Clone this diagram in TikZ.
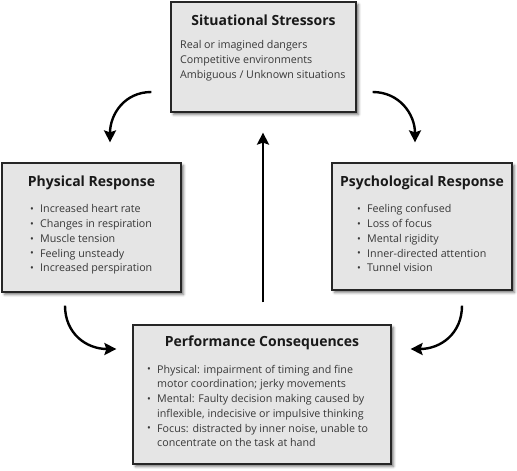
\documentclass[tikz,border=0pt]{standalone}
\usepackage{fontspec}
\setmainfont{Open Sans}
\usetikzlibrary{arrows.meta,shadows.blur}
\newcommand{\itm}{\makebox[10pt][l]{\raisebox{0.3pt}{\fontsize{10}{10}\selectfont\textbullet}}}
\newcommand{\lead}{\rule{0pt}{9pt}}
\begin{document}
\begin{tikzpicture}[x=1pt,y=-1pt,
  box/.style={draw=black!85,line width=1.2pt,fill=black!10,inner sep=0pt,
    blur shadow={shadow xshift=2.5pt,shadow yshift=-2.5pt,shadow blur radius=2.5pt,shadow opacity=55}},
  head/.style={anchor=base,inner sep=0pt,font=\fontsize{14}{16}\selectfont\bfseries,text=black!90},
  list/.style={anchor=north west,inner sep=0pt,align=left,font=\fontsize{10.7}{14.75}\selectfont,text=black!78},
  flow/.style={line width=2.4pt,-{Stealth[length=12pt,width=12pt,inset=2pt]}}]
  \useasboundingbox (0,0) rectangle (517,471);
  \node[box,minimum width=185pt,minimum height=110pt] (S) at (263.5,57) {};
  \node[box,minimum width=179pt,minimum height=129pt] (P) at (91.5,227.5) {};
  \node[box,minimum width=180pt,minimum height=127pt] (R) at (422,226.5) {};
  \node[box,minimum width=258pt,minimum height=139pt] (C) at (262,394.5) {};
  \node[head] (ST) at (263.5,25) {Situational Stressors};
  \node[head] (PT) at (91.5,186) {Physical Response};
  \node[head] (RT) at (422,186) {Psychological Response};
  \node[head] (CT) at (262,346) {Performance Consequences};
  \node[list] (SL) at (180,39.5) {\lead Real or imagined dangers\\
    Competitive environments\\
    Ambiguous / Unknown situations};
  \node[list] (PL) at (30,203.7) {\lead\itm Increased heart rate\\
    \itm Changes in respiration\\
    \itm Muscle tension\\
    \itm Feeling unsteady\\
    \itm Increased perspiration};
  \node[list] (RL) at (357,203.7) {\lead\itm Feeling confused\\
    \itm Loss of focus\\
    \itm Mental rigidity\\
    \itm Inner-directed attention\\
    \itm Tunnel vision};
  \node[list] (CL) at (147,364) {\lead\itm Physical: impairment of timing and fine\\
    \hspace*{10pt}motor coordination; jerky movements\\
    \itm Mental: Faulty decision making caused by\\
    \hspace*{10pt}inflexible, indecisive or impulsive thinking\\
    \itm Focus: distracted by inner noise, unable to\\
    \hspace*{10pt}concentrate on the task at hand};
  \draw[flow] ([shift={(-19,35)}]S.west) .. controls +(-27,0) and +(0,-28) .. ([shift={(18.5,-20)}]P.north);
  \draw[flow] ([shift={(16,35)}]S.east) .. controls +(27,0) and +(0,-28) .. ([shift={(-7,-20)}]R.north);
  \draw[flow] ([shift={(-26.5,13)}]P.south) .. controls +(0,28) and +(-30,0) .. ([shift={(-16,-45.5)}]C.west);
  \draw[flow] ([shift={(40,15)}]R.south) .. controls +(0,28) and +(30,0) .. ([shift={(19,-45.5)}]C.east);
  \draw[flow] ([shift={(1,-22)}]C.north) -- ([shift={(-0.5,20)}]S.south);
\end{tikzpicture}
\end{document}
